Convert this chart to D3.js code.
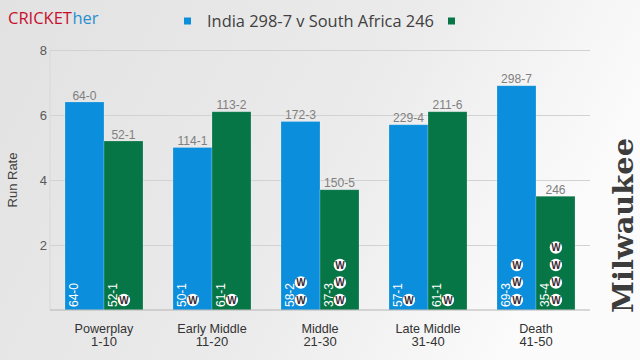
<!DOCTYPE html>
<html>
<head>
<meta charset="utf-8">
<script src="https://cdn.jsdelivr.net/npm/d3@7"></script>
<style>
  body { margin: 0; }
  svg { display: block; font-family: 'Liberation Sans', Arial, sans-serif; }
</style>
</head>
<body>
<svg id="chart" width="640" height="360"></svg>
<script>
const phases = ['Powerplay', 'Early Middle', 'Middle', 'Late Middle', 'Death']
const overs = ['1-10', '11-20', '21-30', '31-40', '41-50']
const teams = ['India', 'South Africa']
const indiaRate = [6.4, 5.0, 5.8, 5.7, 6.9]
const saRate = [5.2, 6.1, 3.7, 6.1, 3.5]
const indiaPhase = ['64-0', '50-1', '58-2', '57-1', '69-3']
const saPhase = ['52-1', '61-1', '37-3', '61-1', '35-4']
const indiaTotal = ['64-0', '114-1', '172-3', '229-4', '298-7']
const saTotal = ['52-1', '113-2', '150-5', '211-6', '246']
const indiaWkts = [0, 1, 2, 1, 3]
const saWkts = [1, 1, 3, 1, 4]
const yTicks = [2, 4, 6, 8]
const legendText = 'India 298-7 v South Africa 246'

const colors = { 'India': '#0b8edb', 'South Africa': '#067647' }

// squash text horizontally, the original font is a narrow one
function squeeze(sel, k) {
  sel.each(function() {
    let len = this.getComputedTextLength()
    d3.select(this)
      .attr('textLength', len * k)
      .attr('lengthAdjust', 'spacingAndGlyphs')
  })
  return sel
}

let svg = d3.select('#chart')

let defs = svg.append('defs')
let grad = defs.append('linearGradient').attr('id', 'bg')
  .attr('x1', 0).attr('x2', 1).attr('y1', 0).attr('y2', 0.3)
grad.append('stop').attr('offset', 0).attr('stop-color', '#e2e2e2')
grad.append('stop').attr('offset', 0.6).attr('stop-color', '#ebebeb')
grad.append('stop').attr('offset', 1).attr('stop-color', '#fbfbfb')
svg.append('rect').attr('width', 640).attr('height', 360).attr('fill', 'url(#bg)')

// rows: one per phase
let rows = phases.map((p, i) => ({
  phase: p,
  overs: overs[i],
  bars: [
    { team: 'India', rate: indiaRate[i], phase: indiaPhase[i], total: indiaTotal[i], wkts: indiaWkts[i] },
    { team: 'South Africa', rate: saRate[i], phase: saPhase[i], total: saTotal[i], wkts: saWkts[i] }
  ]
}))

let x = d3.scaleBand().domain(phases).range([50, 590]).paddingInner(0.2778).paddingOuter(0.1389)
let xs = d3.scaleBand().domain(teams).range([0, x.bandwidth()])
let y = d3.scaleLinear().domain([0, 8]).range([310, 50])

// gridlines + y labels
let yAxis = svg.append('g')
  .attr('transform', 'translate(50,0)')
  .call(d3.axisLeft(y).tickValues(yTicks).tickSize(-540).tickPadding(3))
yAxis.select('.domain').remove()
yAxis.selectAll('.tick line').attr('stroke', '#d2d2d2')
yAxis.selectAll('.tick text')
  .attr('fill', '#595959')
  .style('font-size', '13px')
  .style('font-family', "'Liberation Sans', Arial, sans-serif")

svg.append('line')
  .attr('x1', 50).attr('x2', 50).attr('y1', y(8)).attr('y2', y(0))
  .attr('stroke', '#d8d8d8')

svg.append('text')
  .attr('transform', 'translate(17,' + (y(4)) + ') rotate(-90)')
  .attr('text-anchor', 'middle')
  .attr('fill', '#404040')
  .style('font-size', '13px')
  .text('Run Rate')

let groups = svg.append('g').selectAll('g')
  .data(rows)
  .join('g')
  .attr('transform', d => 'translate(' + x(d.phase) + ',0)')

let bars = groups.selectAll('g')
  .data(d => d.bars)
  .join('g')
  .attr('transform', d => 'translate(' + xs(d.team) + ',0)')

bars.append('rect')
  .attr('x', 0)
  .attr('y', d => y(d.rate))
  .attr('width', xs.bandwidth())
  .attr('height', d => y(0) - y(d.rate))
  .attr('fill', d => colors[d.team])
  .attr('stroke', 'rgba(255,255,255,0.25)')
  .attr('stroke-width', 0.8)

// cumulative score on top
bars.append('text')
  .attr('class', 'total')
  .attr('x', xs.bandwidth() / 2)
  .attr('y', d => y(d.rate) - 2.5)
  .attr('text-anchor', 'middle')
  .attr('fill', '#808080')
  .style('font-size', '13px')
  .text(d => d.total)
  .call(squeeze, 0.93)

// phase score, rotated inside the bar
bars.append('text')
  .attr('transform', 'translate(13,307) rotate(-90)')
  .attr('fill', '#ffffff')
  .style('font-size', '12px')
  .text(d => d.phase)

// wicket balls
let balls = bars.selectAll('g.w')
  .data(d => d3.range(d.wkts))
  .join('g')
  .attr('class', 'w')
  .attr('transform', i => 'translate(' + (xs.bandwidth() * 0.51) + ',' + (y(0) - 10 - i * 17.5) + ')')
balls.append('circle')
  .attr('r', 6.2)
  .attr('fill', '#ffffff')
balls.append('text')
  .attr('y', 3.6)
  .attr('text-anchor', 'middle')
  .attr('fill', '#3a2a33')
  .style('font-size', '10px')
  .style('font-weight', 'bold')
  .text('W')

// baseline
svg.append('line')
  .attr('x1', 50).attr('x2', 590).attr('y1', y(0)).attr('y2', y(0))
  .attr('stroke', '#b4b4b4')

// category labels
let xl = svg.append('g').selectAll('text')
  .data(rows)
  .join('text')
  .attr('text-anchor', 'middle')
  .attr('fill', '#333333')
  .style('font-size', '13px')
xl.append('tspan')
  .attr('x', d => x(d.phase) + x.bandwidth() / 2)
  .attr('y', 332.5)
  .text(d => d.phase)
  .call(squeeze, 0.97)
xl.append('tspan')
  .attr('x', d => x(d.phase) + x.bandwidth() / 2)
  .attr('y', 346)
  .text(d => d.overs)

// legend
let legend = svg.append('g')
legend.append('rect').attr('x', 184).attr('y', 17.5).attr('width', 7).attr('height', 7).attr('fill', colors['India'])
legend.append('rect').attr('x', 448).attr('y', 17.5).attr('width', 7).attr('height', 7).attr('fill', colors['South Africa'])
legend.append('text')
  .attr('x', 207).attr('y', 26.5)
  .attr('fill', '#404040')
  .style('font-size', '17px')
  .style('font-family', "'Open Sans', 'Liberation Sans', sans-serif")
  .attr('textLength', 227)
  .attr('lengthAdjust', 'spacingAndGlyphs')
  .text(legendText)

// brand, two pieces side by side
let brandFont = "'Open Sans', 'Liberation Sans', sans-serif"
let cricket = svg.append('text')
  .attr('x', 8).attr('y', 24)
  .attr('fill', '#c8102e')
  .style('font-size', '16.5px')
  .style('font-family', brandFont)
  .text('CRICKET')
let cw = cricket.node().getComputedTextLength()
svg.append('text')
  .attr('x', 8 + cw + 0.5).attr('y', 24)
  .attr('fill', '#2a8fd0')
  .style('font-size', '16.5px')
  .style('font-family', brandFont)
  .text('her')

// watermark
svg.append('text')
  .attr('transform', 'translate(633,313) rotate(-90)')
  .attr('fill', '#3c3c3c')
  .style('font-size', '27px')
  .style('font-weight', 'bold')
  .style('font-family', "'DejaVu Serif', serif")
  .attr('textLength', 175)
  .attr('lengthAdjust', 'spacingAndGlyphs')
  .text('Milwaukee')
</script>
</body>
</html>
